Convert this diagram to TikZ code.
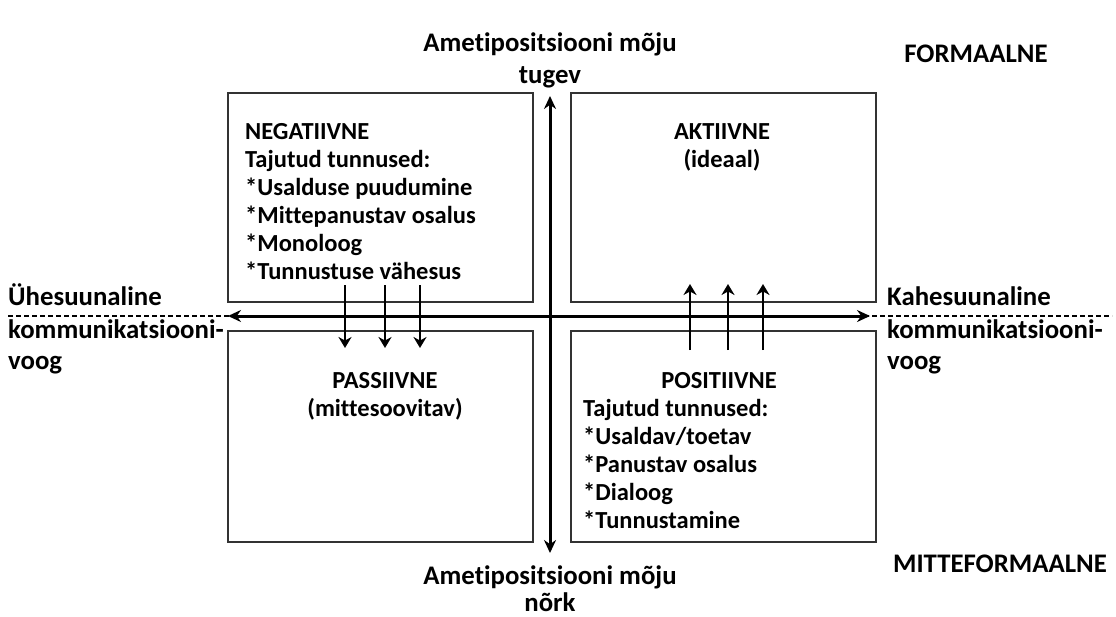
\documentclass[tikz,border=0pt]{standalone}
\usepackage{fontspec}
\setmainfont{Carlito}[Ligatures={NoCommon}]
\usetikzlibrary{arrows.meta}
\begin{document}
\begin{tikzpicture}[x=1pt,y=-1pt,
  every node/.style={font=\bfseries\fontsize{24.5}{28}\selectfont, inner sep=0pt},
  outer/.style={font=\bfseries\fontsize{26.8}{32}\selectfont},
  quad/.style={draw=black!80, line width=1.5pt},
  axis/.style={line width=3pt, {Stealth[length=13pt,width=12pt]}-{Stealth[length=13pt,width=12pt]}},
  flow/.style={line width=2.6pt, -{Stealth[length=11pt,width=13pt]}},
  lbl/.style={anchor=base west}]
\useasboundingbox (0,0) rectangle (1116,616);
% quadrants
\node[quad, minimum width=305pt, minimum height=209pt, anchor=north west] (nw) at (227,92) {};
\node[quad, minimum width=305pt, minimum height=209pt, anchor=north west] (ne) at (570,92) {};
\node[quad, minimum width=305pt, minimum height=211pt, anchor=north west] (sw) at (227,330) {};
\node[quad, minimum width=305pt, minimum height=211pt, anchor=north west] (se) at (570,330) {};
% axes
\coordinate (vt) at (550,96);
\coordinate (vb) at (550,553);
\coordinate (hl) at (228,316);
\coordinate (hr) at (870,316);
\coordinate (dl) at (8,316);
\coordinate (dr) at (1112,316);
\draw[axis] (vt) -- (vb);
\draw[axis] (hl) -- (hr);
\draw[line width=1.8pt, dash pattern=on 5pt off 3pt] (dl) -- (dr);
% flow arrows
\foreach \x/\n in {345/a,385/b,420/c}{
  \coordinate (d\n1) at (\x,285);
  \coordinate (d\n2) at (\x,348);
  \draw[flow] (d\n1) -- (d\n2);
}
\foreach \x/\n in {690/a,728/b,763/c}{
  \coordinate (u\n1) at (\x,350);
  \coordinate (u\n2) at (\x,284);
  \draw[flow] (u\n1) -- (u\n2);
}
% quadrant texts
\node[lbl] (t1) at (245,139) {NEGATIIVNE};
\node[lbl] (t2) at (245,167) {Tajutud tunnused:};
\node[lbl] (t3) at (245,195) {*Usalduse puudumine};
\node[lbl] (t4) at (245,223) {*Mittepanustav osalus};
\node[lbl] (t5) at (245,251) {*Monoloog};
\node[lbl] (t6) at (245,279) {*Tunnustuse vähesus};
\node[anchor=base] (a1) at (722,139) {AKTIIVNE};
\node[anchor=base] (a2) at (722,167) {(ideaal)};
\node[anchor=base] (p1) at (385,388) {PASSIIVNE};
\node[anchor=base] (p2) at (385,416) {(mittesoovitav)};
\node[anchor=base] (s1) at (719,388) {POSITIIVNE};
\node[lbl] (s2) at (583,416) {Tajutud tunnused:};
\node[lbl] (s3) at (583,444) {*Usaldav/toetav};
\node[lbl] (s4) at (583,472) {*Panustav osalus};
\node[lbl] (s5) at (583,500) {*Dialoog};
\node[lbl] (s6) at (583,528) {*Tunnustamine};
% axis labels
\node[outer, anchor=base] (top1) at (550,51) {Ametipositsiooni mõju};
\node[outer, anchor=base] (top2) at (550,83) {tugev};
\node[outer, anchor=base] (bot1) at (550,584) {Ametipositsiooni mõju};
\node[outer, anchor=base] (bot2) at (550,611) {nõrk};
\node[outer, anchor=base] (fo) at (976,62) {FORMAALNE};
\node[outer, anchor=base] (mf) at (1000,572) {MITTEFORMAALNE};
\node[outer, lbl] (l1) at (8,305) {Ühesuunaline};
\node[outer, lbl] (l2) at (8,338) {kommunikatsiooni-};
\node[outer, lbl] (l3) at (8,369) {voog};
\node[outer, lbl] (r1) at (887,305) {Kahesuunaline};
\node[outer, lbl] (r2) at (887,338) {kommunikatsiooni-};
\node[outer, lbl] (r3) at (887,369) {voog};
\end{tikzpicture}
\end{document}
